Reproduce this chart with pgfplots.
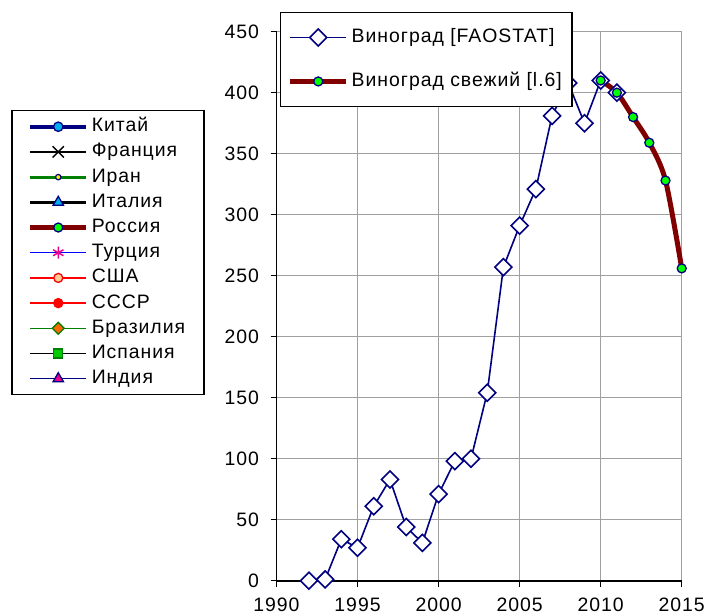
\documentclass[border=0pt]{standalone}
\usepackage{fontspec}
\setmainfont{Liberation Sans}[LetterSpace=5]
\usepackage{pgfplots}
\pgfplotsset{compat=1.18}
\definecolor{navy}{HTML}{000080}
\definecolor{maroon}{HTML}{800000}
\definecolor{lime}{HTML}{00FF00}
\definecolor{dgreen}{HTML}{008000}
\definecolor{peach}{HTML}{FFCC99}
\definecolor{orng}{HTML}{FF6600}
\definecolor{gridgray}{HTML}{A0A0A0}
\definecolor{sqgreen}{HTML}{00CC00}
\begin{document}
\begin{tikzpicture}[x=1bp,y=1bp]
\useasboundingbox (0,0) rectangle (707,614);
\pgfplotsset{
  every axis/.append style={font=\fontsize{19.5}{23}\selectfont},
  legend image code/.code={\draw[mark repeat=2,mark phase=2,#1] plot coordinates {(0bp,0bp) (28bp,0bp) (56bp,0bp)};},
}
\begin{axis}[
  at={(276.5bp,33.3bp)}, anchor=south west,
  scale only axis, width=405.2bp, height=549bp,
  xmin=1990, xmax=2015, ymin=0, ymax=450,
  xtick={1990,1995,...,2015}, ytick={0,50,...,450},
  axis x line*=bottom, axis y line*=left,
  axis line style={line width=1.8bp,-},
  every outer x axis line/.append style={-},
  every outer y axis line/.append style={-},
  grid=major, major grid style={gridgray, line width=1.3bp},
  tick align=outside, major tick length=6bp, tick style={black, line width=1.5bp},
  /pgf/number format/1000 sep={},
  /pgf/number format/assume math mode=true,
  xticklabel style={anchor=north, inner sep=0pt, text depth=0pt, yshift=-11bp},
  yticklabel style={xshift=-8bp},
  clip=false,
  legend cell align=left,
  legend style={at={(0.0086,1.0364)}, anchor=north west, draw=black, line width=1.5bp, fill=white,
    inner xsep=7bp, inner ysep=16bp, row sep=26bp,
    nodes={inner xsep=3bp, inner ysep=0pt, text height=14bp, text depth=4bp}},
]
\addplot[navy, line width=1.6bp, mark=square*, mark size=6bp,
  mark options={rotate=45, fill=white, draw=navy, line width=1.6bp}] coordinates {
(1992,0) (1993,1) (1994,34) (1995,27) (1996,61) (1997,83) (1998,44) (1999,31)
(2000,71) (2001,98) (2002,100) (2003,154) (2004,257) (2005,291) (2006,321)
(2007,381) (2008,408) (2009,375) (2010,410) (2011,400)};
\addlegendentry{Виноград [FAOSTAT]}
\addplot[maroon, line width=5bp, smooth, mark=*, mark size=4.5bp,
  mark options={fill=lime, draw=navy, line width=1.3bp}] coordinates {
(2010,410) (2011,400) (2012,380) (2013,359) (2014,328) (2015,256)};
\addlegendentry{Виноград свежий [l.6]}
\end{axis}
\begin{axis}[
  at={(276.5bp,33.3bp)}, anchor=south west,
  scale only axis, width=405.2bp, height=549bp,
  hide axis, xmin=0, xmax=1, ymin=0, ymax=1,
  legend cell align=left,
  legend style={at={(-0.6552,0.8574)}, anchor=north west, draw=black, line width=1.5bp, fill=white,
    inner xsep=16bp, inner ysep=7bp, row sep=7.2bp,
    nodes={inner xsep=3bp, inner ysep=0pt, text height=14bp, text depth=4bp}},
]
\addlegendimage{navy, line width=4bp, mark=*, mark size=4.7bp, mark options={fill=cyan, draw=navy, line width=1.3bp}}
\addlegendentry{Китай}
\addlegendimage{black, line width=1.5bp, mark=x, mark size=8bp, mark options={black, line width=1.5bp}}
\addlegendentry{Франция}
\addlegendimage{dgreen, line width=3bp, mark=*, mark size=2.7bp, mark options={fill=yellow, draw=navy, line width=1.2bp}}
\addlegendentry{Иран}
\addlegendimage{black, line width=3bp, mark=triangle*, mark size=6bp, mark options={fill=cyan, draw=navy, line width=1.3bp}}
\addlegendentry{Италия}
\addlegendimage{maroon, line width=5bp, mark=*, mark size=4.5bp, mark options={fill=lime, draw=navy, line width=1.3bp}}
\addlegendentry{Россия}
\addlegendimage{blue, line width=1.5bp, mark=asterisk, mark size=6bp, mark options={magenta, line width=1.5bp}}
\addlegendentry{Турция}
\addlegendimage{red, line width=1.5bp, mark=*, mark size=4.5bp, mark options={fill=peach, draw=red, line width=1.3bp}}
\addlegendentry{США}
\addlegendimage{red, line width=1.5bp, mark=*, mark size=4.7bp, mark options={fill=red, draw=red, line width=1bp}}
\addlegendentry{СССР}
\addlegendimage{dgreen, line width=1.5bp, mark=square*, mark size=4.2bp, mark options={rotate=45, fill=orng, draw=dgreen, line width=1.3bp}}
\addlegendentry{Бразилия}
\addlegendimage{black, line width=1.5bp, mark=square*, mark size=4.5bp, mark options={fill=sqgreen, draw=dgreen, line width=1.3bp}}
\addlegendentry{Испания}
\addlegendimage{navy, line width=1.5bp, mark=triangle*, mark size=6bp, mark options={fill=magenta, draw=navy, line width=1.3bp}}
\addlegendentry{Индия}
\end{axis}
\end{tikzpicture}
\end{document}
